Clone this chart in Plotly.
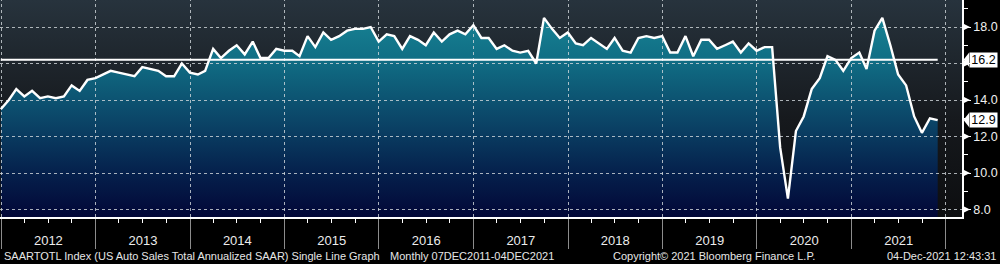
import math
import plotly.graph_objects as go
import pandas as pd

# ---------------- data ----------------
FIRST_MONTH_END = "2011-12-31"
SAAR = [
    13.5,                                                            # Dec 2011
    14.0, 14.6, 14.2, 14.5, 14.1, 14.2, 14.1, 14.2, 14.8, 14.5, 15.1, 15.2,  # 2012
    15.4, 15.6, 15.5, 15.4, 15.3, 15.8, 15.7, 15.6, 15.3, 15.3, 16.0, 15.5,  # 2013
    15.4, 15.6, 16.8, 16.3, 16.7, 17.0, 16.5, 17.2, 16.3, 16.3, 16.8, 16.7,  # 2014
    16.7, 16.4, 17.5, 16.9, 17.7, 17.3, 17.5, 17.8, 17.9, 17.9, 18.0, 17.2,  # 2015
    17.6, 17.5, 16.8, 17.5, 17.3, 17.0, 17.7, 17.2, 17.6, 17.8, 17.6, 18.1,  # 2016
    17.4, 17.4, 16.8, 17.0, 16.7, 16.6, 16.7, 16.0, 18.5, 17.9, 17.4, 17.7,  # 2017
    17.1, 17.0, 17.4, 17.1, 16.8, 17.4, 16.7, 16.6, 17.4, 17.5, 17.4, 17.5,  # 2018
    16.6, 16.6, 17.5, 16.4, 17.3, 17.3, 16.8, 17.0, 17.2, 16.6, 17.1, 16.7,  # 2019
    16.9, 16.9, 11.4, 8.6, 12.3, 13.1, 14.6, 15.2, 16.4, 16.2, 15.6, 16.3,   # 2020
    16.6, 15.7, 17.8, 18.5, 17.0, 15.4, 14.8, 13.1, 12.2, 13.0, 12.9,        # 2021
]
Y_TICKS = [8, 10, 12, 14, 16, 18]
Y_TICK_TEXT = ["8.0", "10.0", "12.0", "14.0", "", "18.0"]   # 16.0 sits under the average tag
Y_MINOR = [9, 11, 13, 15, 17, 19]
YEAR_STARTS = list(range(2012, 2023))
X_RANGE = ["2011-12-28", "2022-03-04"]
Y_RANGE = [7.59, 19.48]

LEFT_TEXT = "SAARTOTL Index (US Auto Sales Total Annualized SAAR) Single Line Graph"
MID_TEXT = "Monthly 07DEC2011-04DEC2021"
COPY_TEXT = "Copyright\u00a9 2021 Bloomberg Finance L.P."
STAMP_TEXT = "04-Dec-2021 12:43:31"

# ---------------- derived ----------------
dates = pd.date_range(FIRST_MONTH_END, periods=len(SAAR), freq=pd.offsets.MonthEnd())
mean_val = sum(SAAR) / len(SAAR)
last_val = SAAR[-1]

W = 1000
H = 264
ML, MR, MT, MB = 0, 38, 0, 47
PW = W - ML - MR
PH = H - MT - MB
UNIT = (Y_RANGE[1] - Y_RANGE[0]) / PH   # data units per pixel
T0 = pd.Timestamp(X_RANGE[0]).value
T1 = pd.Timestamp(X_RANGE[1]).value


def px(p):
    return p / PW


def snap_y(v):
    """nudge a value onto a pixel centre so that a 1px line is drawn crisply"""
    p = (Y_RANGE[1] - v) / UNIT
    return Y_RANGE[1] - (math.floor(p) + 0.5) * UNIT


def snap_x(d):
    p = (pd.Timestamp(d).value - T0) / (T1 - T0) * PW
    p2 = math.floor(p) + 0.5
    return pd.Timestamp(int(T0 + p2 / PW * (T1 - T0))).isoformat()


FONT = "Liberation Sans, Arial, sans-serif"

fig = go.Figure()

# plot background gradient
fig.add_trace(go.Scatter(
    x=X_RANGE, y=[Y_RANGE[1], Y_RANGE[1]], mode="lines", line=dict(width=0),
    fill="tozeroy",
    fillgradient=dict(type="vertical", start=Y_RANGE[0], stop=Y_RANGE[1],
                      colorscale=[[0, "#0d0e10"], [0.45, "#16191d"], [1, "#27333d"]]),
    hoverinfo="skip", showlegend=False,
))

# data area
fig.add_trace(go.Scatter(
    x=dates, y=SAAR, mode="lines", line=dict(width=0),
    fill="tozeroy",
    fillgradient=dict(type="vertical", start=Y_RANGE[0], stop=Y_RANGE[1],
                      colorscale=[[0, "#020737"], [0.2, "#05204c"], [0.45, "#0b4668"],
                                  [0.72, "#106d84"], [1, "#1a8a99"]]),
    hoverinfo="skip", showlegend=False,
))

# dashed grid, one trace per line, drawn above the filled areas
grid_line = dict(color="rgba(210,216,220,0.8)", width=1, dash="3px,3px")
for v in Y_TICKS:
    sv = snap_y(v)
    fig.add_trace(go.Scatter(x=X_RANGE, y=[sv, sv], mode="lines", line=grid_line,
                             hoverinfo="skip", showlegend=False))
for yr in YEAR_STARTS:
    d = snap_x(f"{yr}-01-01")
    fig.add_trace(go.Scatter(x=[d, d], y=Y_RANGE, mode="lines", line=grid_line,
                             hoverinfo="skip", showlegend=False))

# mean line
fig.add_trace(go.Scatter(
    x=[dates[0], dates[-1]], y=[mean_val, mean_val], mode="lines",
    line=dict(color="white", width=2), hoverinfo="skip", showlegend=False,
))

# data line
fig.add_trace(go.Scatter(
    x=dates, y=SAAR, mode="lines", line=dict(color="white", width=2.4),
    showlegend=False,
))

shapes = []
# tick pointers on the right axis
for v in Y_TICKS:
    h = 3 * UNIT
    shapes.append(dict(type="path", xref="paper", yref="y",
                       path=f"M {px(PW+2)},{v+h} L {px(PW+8)},{v} L {px(PW+2)},{v-h} Z",
                       fillcolor="white", line=dict(width=0), layer="above"))

# value tags (average and last value)
tags = [mean_val, last_val]
annotations = []
for v in tags:
    h = 7 * UNIT
    shapes.append(dict(type="path", xref="paper", yref="y",
                       path=f"M {px(PW+1.5)},{v} L {px(PW+7)},{v+h} L {px(PW+7)},{v-h} Z",
                       fillcolor="white", line=dict(width=0), layer="above"))
    annotations.append(dict(xref="paper", yref="y", x=px(PW + 6.5), y=v, xanchor="left",
                            yanchor="middle", text=f"{v:.1f}", showarrow=False,
                            bgcolor="white", width=27, height=14, borderpad=0,
                            font=dict(family=FONT, size=12.5, color="black")))

# footer texts
ty = -(256 - PH) / PH
annotations += [
    dict(xref="paper", yref="paper", x=px(2), y=ty, xanchor="left", yanchor="middle",
         text=LEFT_TEXT, showarrow=False, font=dict(family=FONT, size=11, color="#e6e6e6")),
    dict(xref="paper", yref="paper", x=px(388), y=ty, xanchor="left", yanchor="middle",
         text=MID_TEXT, showarrow=False, font=dict(family=FONT, size=11, color="#e6e6e6")),
    dict(xref="paper", yref="paper", x=px(611), y=ty, xanchor="left", yanchor="middle",
         text=COPY_TEXT, showarrow=False, font=dict(family=FONT, size=11, color="#e6e6e6")),
    dict(xref="paper", yref="paper", x=px(998), y=ty, xanchor="right", yanchor="middle",
         text=STAMP_TEXT, showarrow=False, font=dict(family=FONT, size=11, color="#e6e6e6")),
]

fig.update_layout(
    width=W, height=H,
    margin=dict(l=ML, r=MR, t=MT, b=MB, pad=0),
    paper_bgcolor="black", plot_bgcolor="black",
    showlegend=False,
    shapes=shapes, annotations=annotations,
    xaxis=dict(
        type="date", range=X_RANGE, showgrid=False, zeroline=False,
        tickmode="linear", tick0="2012-01-01", dtick="M12", tickformat="%Y",
        ticklabelmode="period", ticks="outside", ticklen=30, tickwidth=1,
        tickcolor="#8c8c8c", ticklabelstandoff=-19,
        showline=True, linecolor="white", linewidth=1.5,
        tickfont=dict(family=FONT, size=13, color="#ececec"),
        minor=dict(tickmode="linear", tick0="2012-01-01", dtick="M3", ticks="outside",
                   ticklen=4, tickcolor="white", tickwidth=1, showgrid=False),
        layer="above traces",
    ),
    yaxis=dict(
        side="right", range=Y_RANGE, showgrid=False, zeroline=False,
        tickmode="array", tickvals=Y_TICKS, ticktext=Y_TICK_TEXT,
        ticks="outside", ticklen=7, tickcolor="white", tickwidth=1,
        showline=True, linecolor="white", linewidth=1.5,
        tickfont=dict(family=FONT, size=12.5, color="#f0f0f0"),
        minor=dict(tickmode="array", tickvals=Y_MINOR, ticks="outside", ticklen=4,
                   tickcolor="white", tickwidth=1, showgrid=False),
        layer="above traces",
    ),
)

fig.write_html("out.html")
